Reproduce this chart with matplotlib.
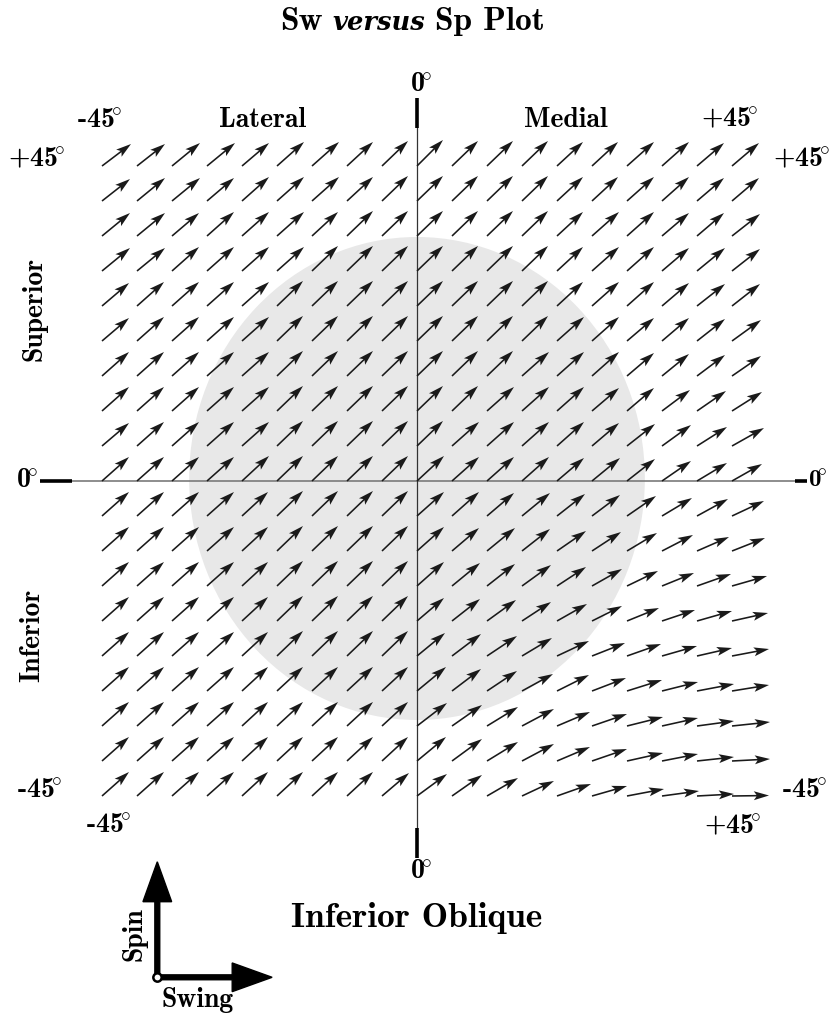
import numpy as np
import matplotlib
matplotlib.use("Agg")
import matplotlib.pyplot as plt
from matplotlib.patches import Ellipse
from matplotlib.offsetbox import TextArea, HPacker, AnnotationBbox

plt.rcParams["mathtext.fontset"] = "cm"

# grid of swing (x) and spin (y) angles, degrees
swing = np.arange(-45, 50, 5)
spin = np.arange(45, -50, -5)

# arrow components (pixels), top row (+45) first,
# columns from -45 to +45
U = [
    [29, 28, 28, 28, 27, 27, 27, 26, 26, 26, 26, 26, 26, 26, 26, 27, 27, 27, 27],
    [28, 28, 28, 27, 27, 27, 27, 26, 26, 26, 26, 26, 26, 26, 26, 27, 27, 27, 27],
    [28, 28, 27, 27, 27, 27, 26, 26, 26, 26, 26, 26, 26, 26, 27, 27, 27, 27, 28],
    [28, 28, 27, 27, 27, 27, 26, 26, 26, 26, 26, 26, 26, 26, 27, 27, 27, 28, 28],
    [27, 27, 27, 27, 27, 26, 26, 26, 26, 26, 26, 26, 26, 26, 27, 27, 27, 28, 28],
    [27, 27, 27, 27, 27, 26, 26, 26, 26, 26, 26, 26, 26, 27, 27, 27, 27, 28, 29],
    [27, 27, 27, 27, 27, 26, 26, 26, 26, 26, 26, 26, 27, 27, 27, 27, 27, 28, 29],
    [27, 27, 27, 27, 27, 26, 26, 26, 26, 26, 26, 27, 27, 27, 27, 27, 28, 29, 30],
    [27, 27, 27, 27, 27, 26, 26, 26, 26, 26, 27, 27, 27, 27, 27, 28, 29, 30, 32],
    [27, 27, 27, 27, 27, 26, 26, 26, 26, 27, 27, 27, 27, 27, 28, 28, 29, 30, 30],
    [27, 27, 27, 27, 26, 26, 26, 26, 26, 27, 27, 27, 28, 28, 28, 29, 30, 31, 32],
    [27, 27, 27, 27, 26, 26, 26, 26, 26, 27, 27, 28, 28, 29, 29, 30, 31, 32, 33],
    [27, 27, 27, 27, 26, 26, 26, 26, 26, 27, 28, 28, 29, 29, 30, 31, 32, 34, 35],
    [27, 27, 27, 27, 26, 26, 26, 26, 26, 27, 28, 29, 29, 30, 30, 32, 33, 35, 36],
    [27, 27, 27, 27, 26, 26, 26, 26, 26, 28, 29, 30, 30, 32, 33, 34, 35, 35, 37],
    [27, 27, 27, 27, 26, 26, 26, 26, 26, 29, 29, 30, 31, 32, 34, 35, 36, 37, 37],
    [27, 27, 27, 27, 26, 26, 26, 26, 26, 30, 30, 31, 32, 33, 35, 36, 36, 37, 38],
    [27, 27, 27, 27, 26, 26, 26, 26, 26, 29, 30, 31, 32, 33, 35, 36, 36, 37, 38],
    [27, 27, 27, 27, 26, 26, 26, 26, 27, 30, 30, 31, 32, 34, 35, 37, 37, 37, 37],
]
V = [
    [22, 22, 23, 23, 23, 24, 24, 24, 25, 26, 25, 25, 25, 24, 24, 24, 24, 23, 23],
    [22, 23, 23, 23, 24, 24, 24, 24, 25, 25, 25, 25, 25, 24, 24, 24, 24, 23, 23],
    [23, 23, 23, 24, 24, 24, 24, 25, 25, 25, 25, 25, 25, 24, 24, 24, 23, 23, 22],
    [23, 23, 24, 24, 24, 24, 25, 25, 25, 25, 25, 25, 25, 24, 24, 24, 23, 23, 22],
    [23, 24, 24, 24, 24, 25, 25, 25, 25, 25, 25, 25, 25, 24, 24, 24, 23, 22, 22],
    [23, 24, 24, 24, 24, 25, 25, 25, 25, 25, 25, 25, 25, 24, 24, 23, 23, 22, 21],
    [24, 24, 24, 24, 24, 25, 25, 25, 25, 25, 25, 25, 24, 24, 24, 23, 22, 21, 20],
    [24, 24, 24, 24, 24, 25, 25, 25, 25, 25, 25, 24, 24, 24, 23, 23, 21, 20, 19],
    [23, 24, 24, 24, 24, 25, 25, 25, 25, 25, 24, 24, 24, 24, 23, 22, 21, 19, 18],
    [24, 24, 24, 24, 25, 25, 25, 25, 25, 25, 24, 24, 24, 23, 23, 22, 20, 18, 17],
    [24, 24, 24, 24, 24, 25, 25, 25, 25, 24, 24, 23, 23, 22, 21, 20, 18, 17, 15],
    [24, 24, 24, 24, 24, 25, 25, 25, 25, 24, 23, 23, 22, 20, 19, 18, 16, 14, 13],
    [24, 24, 24, 24, 24, 25, 25, 25, 25, 24, 23, 22, 21, 19, 17, 15, 13, 12, 10],
    [24, 24, 24, 24, 24, 25, 25, 25, 25, 23, 22, 21, 19, 17, 15, 13, 11, 10, 8],
    [24, 24, 24, 24, 24, 25, 25, 25, 25, 23, 22, 20, 18, 15, 13, 12, 10, 8, 7],
    [24, 24, 24, 24, 24, 24, 24, 24, 24, 24, 22, 20, 17, 16, 13, 11, 9, 7, 6],
    [24, 24, 24, 24, 24, 24, 24, 24, 24, 23, 21, 19, 17, 14, 12, 9, 8, 5, 4],
    [24, 24, 24, 24, 24, 24, 24, 24, 24, 24, 22, 19, 17, 14, 12, 8, 7, 4, 2],
    [24, 24, 24, 24, 24, 24, 24, 24, 23, 22, 21, 18, 15, 12, 10, 7, 5, 2, 0.5],
]

PX = 7.0  # pixels per degree in the reference
FONT = ["cmb10", "DejaVu Serif"]
DEG = r"$\!{}^{\circ}$"

fig = plt.figure(figsize=(8.3, 10.14), dpi=100)
ax = fig.add_axes([0, 0, 1, 1])
ax.set_xlim(-417 / PX, 413 / PX)
ax.set_ylim(-533 / PX, 481 / PX)
ax.axis("off")

# shaded region
ax.add_patch(Ellipse((0, 0.36), 65.1, 69.0, color="#e8e8e8", lw=0, zorder=0))

# axes through the origin
ax.plot([-49.3, 54.0], [0, 0], color="#7a7a7a", lw=1.2, zorder=1)
ax.plot([0, 0], [-49.6, 50.4], color="#333333", lw=0.9, zorder=1)
for xs, ys in [([0, 0], [50.4, 54.7]), ([0, 0], [-49.6, -53.9]),
               ([-53.9, -49.3], [0, 0]), ([54.0, 55.7], [0, 0])]:
    ax.plot(xs, ys, color="black", lw=2.6, solid_capstyle="butt", zorder=2)

X, Y = np.meshgrid(swing, spin)
ax.quiver(X, Y, np.array(U), np.array(V), angles="xy", scale_units="xy",
          scale=PX, pivot="tail", units="dots", width=1.6, headwidth=5.6,
          headlength=9.5, headaxislength=7.8, color="#1a1a1a", zorder=3)

lab = dict(family=FONT, fontsize=20, ha="center", va="center")
ax.text(-22.0, 51.6, "Lateral", **lab)
ax.text(21.3, 51.6, "Medial", **lab)
ax.text(-45.3, 51.6, "-45" + DEG, **lab)
ax.text(44.7, 51.6, "+45" + DEG, **lab)
ax.text(-54.3, 45.9, "+45" + DEG, **lab)
ax.text(55.0, 45.9, "+45" + DEG, **lab)
ax.text(-54.0, -44.1, "-45" + DEG, **lab)
ax.text(55.3, -44.1, "-45" + DEG, **lab)
ax.text(-44.1, -49.1, "-45" + DEG, **lab)
ax.text(45.1, -49.3, "+45" + DEG, **lab)
ax.text(0.6, 56.6, "0" + DEG, **lab)
ax.text(0.6, -55.9, "0" + DEG, **lab)
ax.text(-55.7, 0, "0" + DEG, **lab)
ax.text(55.9, 0, "0" + DEG, family=FONT, fontsize=18, ha="left",
        va="center")
ax.text(-54.6, 24.6, "Superior", rotation=90, **lab)
ax.text(-54.9, -22.1, "Inferior", rotation=90, **lab)
ax.text(-0.1, -62.4, "Inferior Oblique", family=FONT, fontsize=25.5,
        ha="center", va="center")

# title with italic middle word
parts = [TextArea("Sw", textprops=dict(family=FONT, fontsize=24)),
         TextArea("versus", textprops=dict(family="DejaVu Serif", fontsize=18.5,
                                           weight="bold", style="italic")),
         TextArea("Sp Plot", textprops=dict(family=FONT, fontsize=24))]
title = HPacker(children=parts, align="baseline", pad=0, sep=7)
ax.add_artist(AnnotationBbox(title, (-0.6, 65.7), frameon=False,
                             box_alignment=(0.5, 0.5)))

# spin / swing key
ox, oy = -37.1, -70.9
ax.arrow(ox, oy, 0, 16.5, width=0.7, head_width=4.1, head_length=5.7,
         length_includes_head=True, color="black", zorder=4)
ax.arrow(ox, oy, 16.4, 0, width=0.7, head_width=4.1, head_length=5.7,
         length_includes_head=True, color="black", zorder=4)
ax.plot(ox, oy, "o", ms=6, mfc="white", mec="black", mew=1.8, zorder=5)
ax.text(-40.4, -64.7, "Spin", rotation=90, family=FONT, fontsize=20,
        ha="center", va="center")
ax.text(-31.4, -74.2, "Swing", family=FONT, fontsize=20,
        ha="center", va="center")

fig.savefig("out.png", dpi=100)
